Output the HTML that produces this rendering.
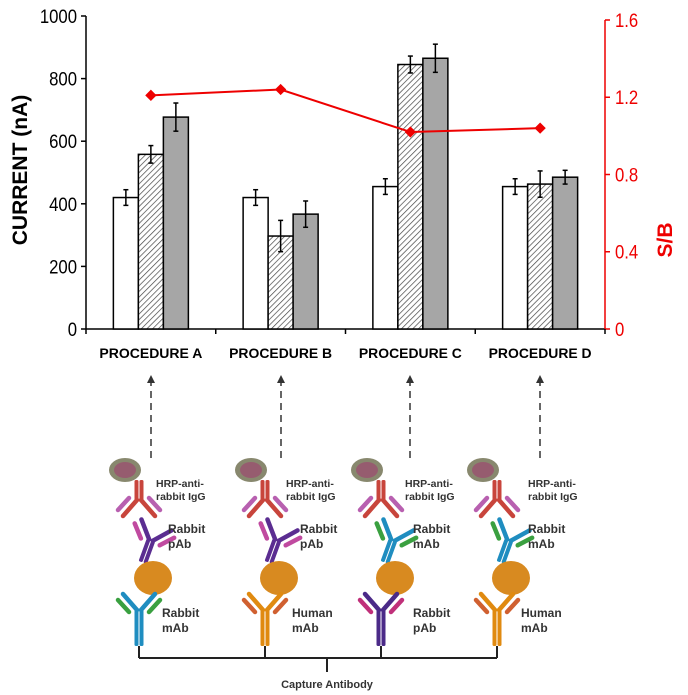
<!DOCTYPE html>
<html><head><meta charset="utf-8"><style>
body{margin:0;background:#fff;}
svg{display:block;font-family:"Liberation Sans",sans-serif;}
</style></head><body>
<svg id="c" width="688" height="695" viewBox="0 0 688 695">
<defs><pattern id="hatch" width="4" height="4" patternUnits="userSpaceOnUse" patternTransform="rotate(45)"><rect width="4" height="4" fill="#fff"/><line x1="0" y1="0" x2="0" y2="4" stroke="#444" stroke-width="1.4"/></pattern></defs>
<g id="chart"></g>
<g id="illus"></g>
</svg>
<script>
const categories=["PROCEDURE A","PROCEDURE B","PROCEDURE C","PROCEDURE D"];
const seriesWhite=[420,420,455,455];
const seriesHatched=[558,297,845,463];
const seriesGray=[677,367,865,485];
const errWhite=[25,25,25,25];
const errHatched=[28,50,27,42];
const errGray=[45,42,45,22];
const ratioSB=[1.21,1.24,1.02,1.04];
const leftTicks=[0,200,400,600,800,1000];
const rightTicks=[0,0.4,0.8,1.2,1.6];
const NS="http://www.w3.org/2000/svg";
const chart=document.getElementById('chart');
function mk(tag,attrs,parent,text){const e=document.createElementNS(NS,tag);for(const k in attrs)e.setAttribute(k,attrs[k]);if(text!==undefined)e.textContent=text;(parent||chart).appendChild(e);return e;}
const X0=86,X1=605,Y0=329,Ytop=16;
const y=v=>Y0-(v/1000)*(Y0-Ytop);
const y2=v=>Y0-(v/1.6)*(Y0-20);
const bw=(X1-X0)/categories.length;
const cx=i=>X0+bw*(i+0.5);
const barW=25;
let e=mk('line',{x1:X0,y1:Ytop,x2:X0,y2:Y0,stroke:'#000','stroke-width':1.5});

e=mk('line',{x1:X0,y1:Y0,x2:X1,y2:Y0,stroke:'#000','stroke-width':1.5});

e=mk('line',{x1:X1,y1:20,x2:X1,y2:Y0,stroke:'#e00','stroke-width':1.5});

leftTicks.forEach(t=>{mk('line',{x1:X0-5,y1:y(t),x2:X0,y2:y(t),stroke:'#000','stroke-width':1.5});
 e=mk('text',{x:X0-9,y:y(t)+7,'text-anchor':'end','font-size':19,transform:`translate(${X0-9},0) scale(0.88,1) translate(${-(X0-9)},0)`},chart,String(t));
 });
rightTicks.forEach(t=>{mk('line',{x1:X1,y1:y2(t),x2:X1+5,y2:y2(t),stroke:'#e00','stroke-width':1.5});
 e=mk('text',{x:X1+10,y:y2(t)+7,'font-size':19,fill:'#e00',transform:`translate(${X1+10},0) scale(0.88,1) translate(${-(X1+10)},0)`},chart,String(t));
 });
for(let i=0;i<=categories.length;i++){mk('line',{x1:X0+bw*i,y1:Y0,x2:X0+bw*i,y2:Y0+5,stroke:'#000','stroke-width':1.5});}
e=mk('text',{x:0,y:0,'font-size':21,'font-weight':'bold',transform:'translate(27,170) rotate(-90)','text-anchor':'middle'},chart,'CURRENT (nA)');

e=mk('text',{x:0,y:0,'font-size':21,'font-weight':'bold',fill:'#e00',transform:'translate(672,240) rotate(-90)','text-anchor':'middle'},chart,'S/B');

categories.forEach((c,i)=>{e=mk('text',{x:cx(i),y:358,'text-anchor':'middle','font-size':13.5,'font-weight':'bold',textLength:103,lengthAdjust:'spacingAndGlyphs'},chart,c);
 });
const sets=[[seriesWhite,errWhite,'#fff'],[seriesHatched,errHatched,'url(#hatch)'],[seriesGray,errGray,'#a6a6a6']];
sets.forEach((s,k)=>{s[0].forEach((v,i)=>{const x=cx(i)+(k-1)*barW-barW/2;
 e=mk('rect',{x:x,y:y(v),width:barW,height:Y0-y(v),fill:s[2],stroke:'#000','stroke-width':1.5});
 
 const m=x+barW/2,hi=y(v+s[1][i]),lo=y(v-s[1][i]);
 mk('line',{x1:m,y1:hi,x2:m,y2:lo,stroke:'#000','stroke-width':1.5});
 mk('line',{x1:m-2.5,y1:hi,x2:m+2.5,y2:hi,stroke:'#000','stroke-width':1.5});
 mk('line',{x1:m-2.5,y1:lo,x2:m+2.5,y2:lo,stroke:'#000','stroke-width':1.5});});});
e=mk('polyline',{points:ratioSB.map((v,i)=>cx(i)+','+y2(v)).join(' '),fill:'none',stroke:'#e00','stroke-width':2});

ratioSB.forEach((v,i)=>{e=mk('rect',{x:cx(i)-4,y:y2(v)-4,width:8,height:8,fill:'#e00',transform:`rotate(45 ${cx(i)} ${y2(v)})`});
 });
const il=document.getElementById('illus');
const groups=[
 {x:139,mid:'#5b2d91',midArm:'#c04aa0',midLabel:['Rabbit','pAb'],bot:'#1f8dc0',botArm:'#3aa040',botLabel:['Rabbit','mAb']},
 {x:265,mid:'#5b2d91',midArm:'#c04aa0',midLabel:['Rabbit','pAb'],bot:'#e08a10',botArm:'#d06030',botLabel:['Human','mAb']},
 {x:381,mid:'#1f8dc0',midArm:'#3aa040',midLabel:['Rabbit','mAb'],bot:'#4b2a88',botArm:'#c0307a',botLabel:['Rabbit','pAb']},
 {x:497,mid:'#1f8dc0',midArm:'#3aa040',midLabel:['Rabbit','mAb'],bot:'#e08a10',botArm:'#d06030',botLabel:['Human','mAb']}];
function Y(x,yy,col,arm,rot,len){const g=mk('g',{transform:`translate(${x},${yy}) rotate(${rot})`},il);
 mk('rect',{x:-4.5,y:0,width:4,height:len,rx:1.5,fill:col},g);mk('rect',{x:0.5,y:0,width:4,height:len,rx:1.5,fill:col},g);
 mk('line',{x1:-2,y1:0,x2:-16,y2:-16,stroke:col,'stroke-width':4.5,'stroke-linecap':'round'},g);
 mk('line',{x1:2,y1:0,x2:16,y2:-16,stroke:col,'stroke-width':4.5,'stroke-linecap':'round'},g);
 mk('line',{x1:-10,y1:2,x2:-21,y2:-10,stroke:arm,'stroke-width':4.5,'stroke-linecap':'round'},g);
 mk('line',{x1:10,y1:2,x2:21,y2:-10,stroke:arm,'stroke-width':4.5,'stroke-linecap':'round'},g);return g;}
groups.forEach((g,i)=>{const ax=[151,281,410,540][i];
 e=mk('line',{x1:ax,y1:458,x2:ax,y2:382,stroke:'#333','stroke-width':1.5,'stroke-dasharray':'7,5'},il);
 
 mk('polygon',{points:`${ax-4},${383} ${ax+4},${383} ${ax},${375}`,fill:'#333'},il);
 const x=g.x;
 e=mk('ellipse',{cx:x-14,cy:470,rx:16,ry:12,fill:'#6a6a4a',opacity:0.8},il);
 
 mk('ellipse',{cx:x-14,cy:470,rx:11,ry:8,fill:'#a04070',opacity:0.6},il);
 Y(x,500,'#c8453c','#b860b0',180,20);
 Y(x+12,540,g.mid,g.midArm,20,24);
 e=mk('ellipse',{cx:x+14,cy:578,rx:19,ry:17,fill:'#d88a20'},il);
 
 Y(x,610,g.bot,g.botArm,0,36);
 const tx=[156,286,405,528][i];
 e=mk('text',{x:tx,y:487,'font-size':10.5,'font-weight':'bold',fill:'#333'},il,'HRP-anti-');
 
 mk('text',{x:tx,y:500,'font-size':10.5,'font-weight':'bold',fill:'#333'},il,'rabbit IgG');
 const mx=[168,300,413,528][i];
 e=mk('text',{x:mx,y:533,'font-size':12,'font-weight':'bold',fill:'#333'},il,g.midLabel[0]);
 
 mk('text',{x:mx,y:548,'font-size':12,'font-weight':'bold',fill:'#333'},il,g.midLabel[1]);
 const bx=[162,292,413,521][i];
 e=mk('text',{x:bx,y:617,'font-size':12,'font-weight':'bold',fill:'#333'},il,g.botLabel[0]);
 
 mk('text',{x:bx,y:632,'font-size':12,'font-weight':'bold',fill:'#333'},il,g.botLabel[1]);
 mk('line',{x1:x,y1:646,x2:x,y2:658,stroke:'#222','stroke-width':2},il);
});
e=mk('line',{x1:139,y1:658,x2:497,y2:658,stroke:'#222','stroke-width':2},il);

mk('line',{x1:327,y1:658,x2:327,y2:672,stroke:'#222','stroke-width':2},il);
e=mk('text',{x:327,y:688,'text-anchor':'middle','font-size':11,'font-weight':'bold',fill:'#333'},il,'Capture Antibody');

</script>
</body></html>
